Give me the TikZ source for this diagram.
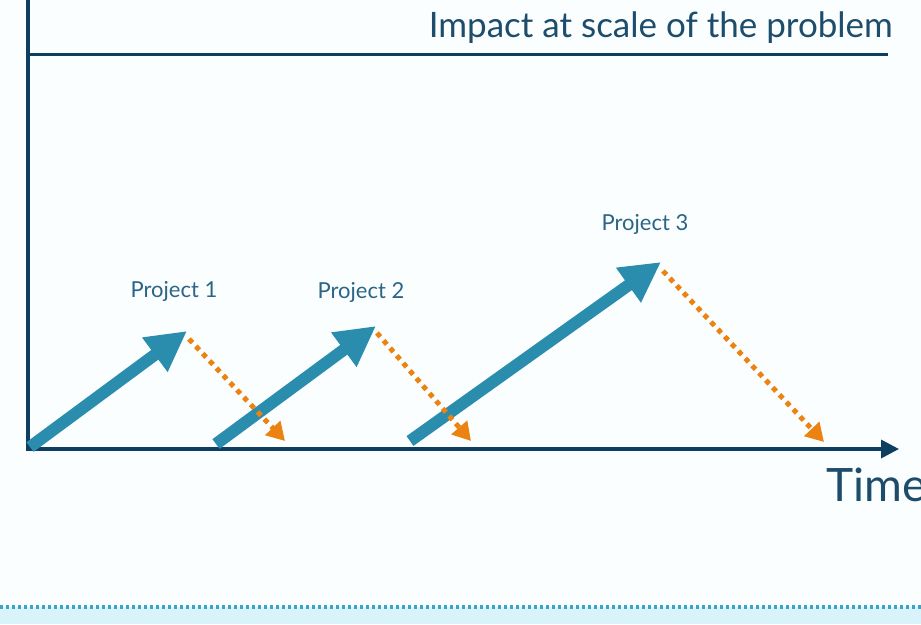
\documentclass[tikz,border=0pt]{standalone}
\usepackage{fontspec}
\setmainfont{Lato}
\usetikzlibrary{arrows.meta}
\definecolor{navy}{HTML}{0F3F60}
\definecolor{txtnavy}{HTML}{1E4D6B}
\definecolor{tealc}{HTML}{2B8DAD}
\definecolor{orng}{HTML}{EC8210}
\definecolor{bgc}{HTML}{FAFEFF}
\definecolor{band}{HTML}{D9F3FA}
\definecolor{dotc}{HTML}{3CA4C4}
\definecolor{labc}{HTML}{2C6585}
\begin{document}
\begin{tikzpicture}[x=1pt,y=-1pt,
  axisline/.style={draw=navy,line width=4pt},
  growarrow/.style={draw=tealc,line width=12pt,-{Triangle[length=40pt,width=40pt]}},
  decayarrow/.style={draw=orng,line width=5pt,dash pattern=on 5pt off 5pt,-{Triangle[length=18pt,width=20pt]}},
  plabel/.style={text=labc,font=\fontsize{22}{26}\selectfont,inner sep=0pt}]
\fill[bgc] (0,0) rectangle (921,624);
\useasboundingbox (0,0) rectangle (921,624);
\fill[band] (0,607) rectangle (921,624);
\draw[dotc,line width=4pt,dash pattern=on 3pt off 3pt] (0,607) -- (921,607);
% axes
\coordinate (ytop) at (28,0);
\coordinate (orig) at (28,449);
\coordinate (xstart) at (26,449);
\coordinate (xend) at (899,449);
\coordinate (lineL) at (28,54);
\coordinate (lineR) at (888,54);
\draw[axisline] (ytop) -- (orig);
\draw[axisline,line width=3pt] (lineL) -- (lineR);
\draw[axisline,line width=3.5pt,-{Triangle[length=18pt,width=18pt]}] (xstart) -- (xend);
\node[anchor=base east,text=txtnavy,font=\fontsize{35}{40}\selectfont,inner sep=0pt] (impact) at (893,37) {Impact at scale of the problem};
\node[anchor=base west,text=txtnavy,font=\fontsize{46}{52}\selectfont,inner sep=0pt] (time) at (826,501) {Time};
% projects
\coordinate (s1) at (30,447); \coordinate (t1) at (187,331);
\coordinate (s2) at (216,444); \coordinate (t2) at (376,326);
\coordinate (s3) at (410,441); \coordinate (t3) at (661,262);
\coordinate (d1a) at (189,339); \coordinate (d1b) at (285,441);
\coordinate (d2a) at (377,333); \coordinate (d2b) at (471,441);
\coordinate (d3a) at (663,271); \coordinate (d3b) at (824,442);
\draw[growarrow] (s1) -- (t1);
\draw[growarrow] (s2) -- (t2);
\draw[growarrow] (s3) -- (t3);
\draw[decayarrow] (d1a) -- (d1b);
\draw[decayarrow] (d2a) -- (d2b);
\draw[decayarrow] (d3a) -- (d3b);
\node[plabel,anchor=base] (p1) at (174,297) {Project 1};
\node[plabel,anchor=base] (p2) at (361,298) {Project 2};
\node[plabel,anchor=base] (p3) at (645,230) {Project 3};
\end{tikzpicture}
\end{document}
